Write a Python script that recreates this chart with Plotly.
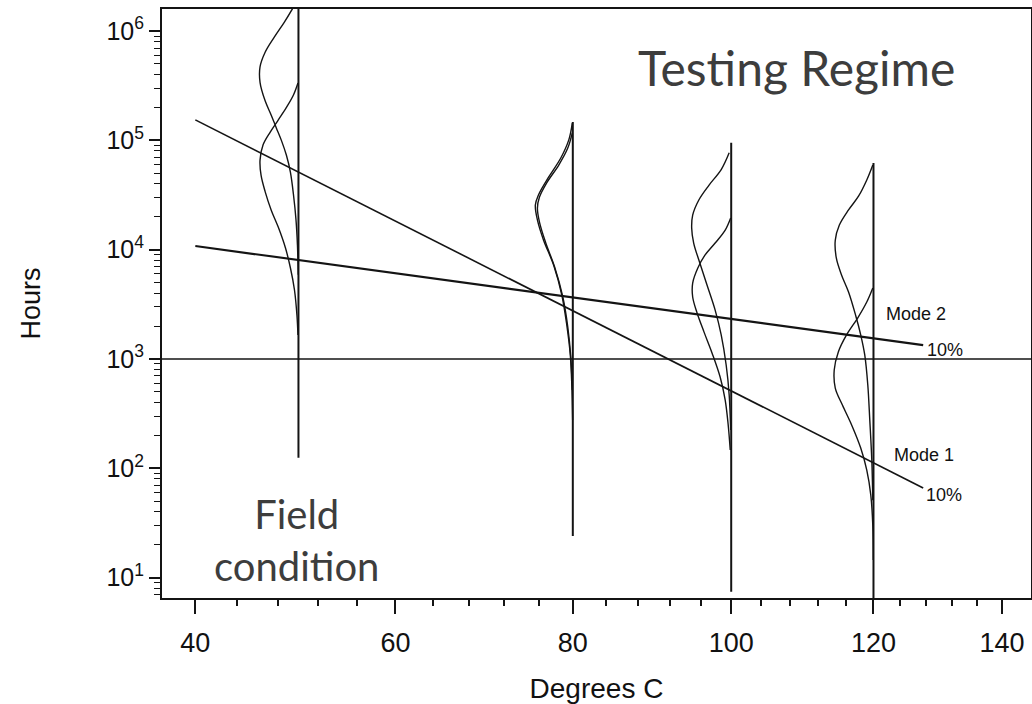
import plotly.graph_objects as go

# ---------------- data ----------------
# x axis is an Arrhenius scale labelled in degrees C
x_tick_c = [40, 60, 80, 100, 120, 140]
x_minor_c = [t for t in range(40, 141, 4) if t not in (40, 60, 80, 100, 120, 140)]
x_range_c = [36.9, 144.8]

y_tick_vals = [10, 100, 1000, 10000, 100000, 1000000]
y_tick_text = ["10<sup>1</sup>", "10<sup>2</sup>", "10<sup>3</sup>",
               "10<sup>4</sup>", "10<sup>5</sup>", "10<sup>6</sup>"]

# vertical stress-level lines
stress_temps = [50, 80, 100, 120]
stress_top_h = [1.6e6, 1.47e5, 9.5e4, 6.2e4]
stress_bottom_h = [125, 24, 7.4, 5]

# 10% life lines
mode_line_t = [40, 127.5]
mode1_h = [1.54e5, 66]
mode2_h = [1.08e4, 1.34e3]

# reference line
ref_hours = 1000

# life distributions drawn sideways at each temperature (deg C, hours)
d50_a_t = [49.4, 48.6, 47.6, 46.7, 46.2, 46.2, 46.7, 47.3, 47.8, 48.3, 48.8, 49.2, 49.5, 49.75, 49.9, 49.98]
d50_a_h = [1.6e6, 1.21e6, 8.8e5, 6.4e5, 4.7e5, 3.4e5, 2.3e5, 1.7e5, 1.3e5, 1.0e5, 7.3e4, 5.1e4, 3.2e4, 1.9e4, 1.1e4, 5.9e3]
d50_b_t = [49.95, 49.5, 48.8, 48.0, 47.2, 46.5, 46.2, 46.3, 46.7, 47.3, 48.0, 48.7, 49.2, 49.6, 49.85, 49.95]
d50_b_h = [3.35e5, 2.6e5, 2.0e5, 1.54e5, 1.19e5, 9.1e4, 6.6e4, 4.8e4, 3.4e4, 2.3e4, 1.6e4, 1.04e4, 6.8e3, 4.3e3, 2.5e3, 1.66e3]

d80_a_t = [79.94, 79.52, 78.57, 77.13, 75.94, 75.58, 75.82, 76.54, 77.73, 78.69, 79.28, 79.70, 79.88, 79.98]
d80_a_h = [1.44e5, 1.01e5, 6.9e4, 4.6e4, 3.16e4, 2.56e4, 1.87e4, 1.22e4, 7.2e3, 3.85e3, 2.05e3, 1.09e3, 578, 277]
d80_b_t = [79.94, 79.40, 78.33, 76.89, 76.06, 75.82, 76.06, 76.77, 77.85, 78.81, 79.40, 79.76, 79.94]
d80_b_h = [1.17e5, 8.5e4, 5.95e4, 4.07e4, 3.03e4, 2.40e4, 1.79e4, 1.17e4, 6.9e3, 3.69e3, 1.96e3, 1.04e3, 520]

d100_a_t = [99.73, 98.67, 97.07, 95.73, 94.93, 94.80, 95.06, 95.86, 96.80, 97.87, 98.67, 99.33, 99.73, 99.93]
d100_a_h = [7.7e4, 5.4e4, 3.9e4, 2.85e4, 2.07e4, 1.58e4, 1.15e4, 7.55e3, 4.75e3, 2.8e3, 1.66e3, 881, 468, 224]
d100_b_t = [99.93, 99.20, 97.87, 96.53, 95.60, 94.93, 94.93, 95.46, 96.40, 97.47, 98.53, 99.20, 99.60, 99.87]
d100_b_h = [1.95e4, 1.51e4, 1.15e4, 8.9e3, 6.8e3, 4.95e3, 3.69e3, 2.69e3, 1.77e3, 1.13e3, 684, 421, 249, 147]

d120_a_t = [119.90, 119.01, 117.82, 116.34, 115.01, 114.42, 114.57, 115.31, 116.34, 117.38, 118.12, 118.71, 119.16, 119.45, 119.75, 119.90]
d120_a_h = [5.95e4, 4.34e4, 3.1e4, 2.31e4, 1.68e4, 1.22e4, 8.4e3, 5.9e3, 4.1e3, 2.5e3, 1.66e3, 1.09e3, 578, 277, 119, 51]
d120_b_t = [119.90, 119.01, 117.67, 116.05, 114.86, 114.27, 114.42, 115.45, 116.79, 118.12, 119.01, 119.60, 119.90, 119.97]
d120_b_h = [4.46e3, 3.32e3, 2.37e3, 1.66e3, 1.16e3, 792, 542, 379, 249, 153, 96, 57, 30, 14.5]


def arr(t):
    """Arrhenius coordinate for a temperature in deg C."""
    return -1000.0 / (t + 273.15)


INK = "#141414"
fig = go.Figure()


def add_line(ts, hs, width=1.5, shape="linear"):
    fig.add_trace(go.Scatter(
        x=[arr(t) for t in ts], y=hs, mode="lines",
        line=dict(color=INK, width=width, shape=shape),
        showlegend=False, hoverinfo="skip"))


# reference 1000 h line
add_line(x_range_c, [ref_hours, ref_hours], width=1.6)

# vertical stress lines
for t, top, bot in zip(stress_temps, stress_top_h, stress_bottom_h):
    add_line([t, t], [top, bot], width=2)

# 10% lines
add_line(mode_line_t, mode1_h, width=1.6)
add_line(mode_line_t, mode2_h, width=2.2)

# distributions
for ts, hs in [(d50_a_t, d50_a_h), (d50_b_t, d50_b_h),
               (d80_a_t, d80_a_h), (d80_b_t, d80_b_h),
               (d100_a_t, d100_a_h), (d100_b_t, d100_b_h),
               (d120_a_t, d120_a_h), (d120_b_t, d120_b_h)]:
    add_line(ts, hs, width=1.4, shape="spline")

SANS = "Liberation Sans, Arial, sans-serif"
TICK_FONT = dict(family=SANS, size=27, color="#111")

fig.update_xaxes(
    range=[arr(x_range_c[0]), arr(x_range_c[1])],
    tickvals=[arr(t) for t in x_tick_c], ticktext=[str(t) for t in x_tick_c],
    ticks="outside", ticklen=14, tickwidth=2, tickcolor=INK,
    minor=dict(tickvals=[arr(t) for t in x_minor_c], ticks="outside", ticklen=6,
               tickwidth=1.5, tickcolor=INK),
    showline=True, linecolor=INK, linewidth=2, mirror=True,
    showgrid=False, zeroline=False, tickfont=TICK_FONT, ticklabelstandoff=6,
    title=dict(text="Degrees C", font=dict(family=SANS, size=28, color="#111"), standoff=26),
)
fig.update_yaxes(
    type="log", range=[0.813, 6.202],
    tickvals=y_tick_vals, ticktext=y_tick_text,
    ticks="outside", ticklen=11, tickwidth=2, tickcolor=INK,
    minor=dict(tickvals=[m * 10 ** e for e in range(0, 7) for m in range(2, 10)],
               ticks="outside", ticklen=6, tickwidth=1.2, tickcolor=INK),
    showline=True, linecolor=INK, linewidth=2, mirror=True,
    showgrid=False, zeroline=False, tickfont=dict(family=SANS, size=25, color="#111"),
    title=dict(text="Hours", font=dict(family=SANS, size=27, color="#111"), standoff=58),
)

L, R, T, B = 162, 1, 9, 106
W, H = 1032, 704
pw, ph = W - L - R, H - T - B


def paper(px, py):
    return (px - L) / pw, (H - B - py) / ph


ann = [
    ("Mode 2", 916, 314, 18, SANS, "#111"),
    ("10%", 945, 350, 18, SANS, "#111"),
    ("Mode 1", 924, 455, 18, SANS, "#111"),
    ("10%", 944, 495, 18, SANS, "#111"),
    ("Testing Regime", 796, 68, 48, "Lato, Open Sans, sans-serif", "#3d3d3d"),
    ("Field<br>condition", 296, 540, 40, "Lato, Open Sans, sans-serif", "#3d3d3d"),
]
for text, px, py, size, fam, col in ann:
    xp, yp = paper(px, py)
    fig.add_annotation(x=xp, y=yp, xref="paper", yref="paper", text=text,
                       showarrow=False, xanchor="center", yanchor="middle",
                       align="center",
                       font=dict(family=fam, size=size, color=col))

fig.update_layout(
    width=W, height=H, margin=dict(l=L, r=R, t=T, b=B, autoexpand=False),
    paper_bgcolor="white", plot_bgcolor="white", showlegend=False,
)

fig.write_html("out.html")
